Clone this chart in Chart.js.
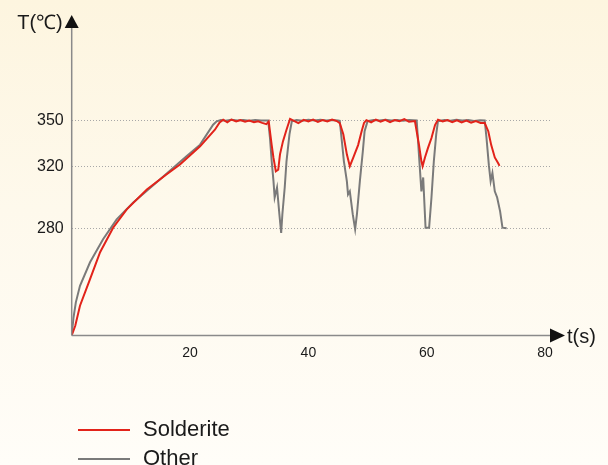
<!DOCTYPE html>
<html>
<head>
<meta charset="utf-8">
<script src="https://cdn.jsdelivr.net/npm/chart.js@4/dist/chart.umd.min.js"></script>
<style>
  html, body { margin: 0; padding: 0; }
  body {
    width: 608px; height: 465px; overflow: hidden;
    background: linear-gradient(to bottom, #fdf5df 0%, #fef9ec 45%, #fffdf8 100%);
  }
  #wrap { position: relative; width: 608px; height: 465px; }
</style>
</head>
<body>
<div id="wrap"><canvas id="chart"></canvas></div>
<script>
// valores (t em s, T em °C)
const redTime = [0, 0.6, 1.4, 3.1, 4.8, 7.0, 9.3, 12.7, 16.0, 18.3, 21.7, 24.2, 25.0, 25.6, 26.3, 27.0, 27.8, 28.5, 29.3, 30.0,
  30.8, 31.5, 32.2, 32.9, 33.3, 33.5, 33.8, 34.1, 34.5, 34.9, 35.2, 35.7, 36.3, 36.9, 37.4, 38.3, 39.2, 40.0, 40.8, 41.6,
  42.4, 43.2, 44.0, 44.8, 45.3, 45.9, 46.5, 47.0, 47.6, 48.4, 49.0, 49.4, 49.8, 50.6, 51.4, 52.2, 53.0, 53.8, 54.6, 55.4,
  56.2, 57.0, 58.0, 58.3, 58.7, 59.1, 59.3, 59.7, 60.2, 60.8, 61.4, 61.9, 62.7, 63.5, 64.3, 65.1, 65.9, 66.7, 67.5, 68.3,
  69.1, 69.8, 70.4, 70.9, 71.5, 72.1, 72.3];
const redTemp = [210.5, 216.8, 229.8, 247, 264.5, 280.4, 292.3, 305.2, 314.9, 321.4, 333.2, 344, 348.7, 350.5, 348.8, 350.6, 349.4, 350.3, 349.2, 349.9,
  348.8, 349.5, 348.4, 347.6, 349.3, 343, 334, 325.7, 317, 318, 328, 336.4, 344, 351, 350, 348.2, 350.4, 349.3, 350.5, 349,
  350.2, 349.4, 350.6, 349.6, 348.3, 341, 328, 320.3, 326, 334, 343, 348.4, 350.2, 348.8, 350.5, 349.2, 350.4, 348.9, 350.3, 349.5,
  350.8, 349.2, 349.6, 343, 334, 323.5, 320.3, 326, 332, 338.6, 347, 350.5, 349.4, 350.2, 348.9, 350.1, 348.7, 349.9, 348.5, 349.6,
  348.4, 348.3, 343, 334, 326, 322, 320.5];

const otherTime = [0, 0.3, 0.7, 1.4, 3.1, 5.3, 7.6, 10.4, 14.9, 19.4, 21.7, 23.9, 24.5, 25.2, 26.0, 27.0, 28.0, 29.0, 30.0, 31.0,
  32.0, 33.2, 33.5, 33.8, 34.1, 34.3, 34.7, 35.1, 35.4, 35.6, 36.0, 36.3, 36.8, 37.2, 38.0, 39.0, 40.0, 41.0, 42.0, 43.0,
  44.0, 45.0, 45.3, 45.6, 46.0, 46.5, 46.7, 47.0, 47.5, 47.9, 48.2, 48.7, 49.2, 49.5, 50.0, 51.0, 52.0, 53.0, 54.0, 55.0,
  56.0, 57.0, 58.3, 58.5, 58.8, 59.1, 59.4, 59.8, 60.4, 60.8, 61.2, 61.6, 61.9, 63.0, 64.0, 65.0, 66.0, 67.0, 68.0, 69.0,
  69.8, 70.1, 70.5, 70.8, 71.1, 71.5, 71.9, 72.4, 72.8, 73.5];
const otherTemp = [210.5, 222, 232, 242.7, 258, 272.9, 285.8, 296.8, 311.7, 326.7, 334.3, 347.2, 349.4, 350.2, 349.8, 350.4, 350, 350.3, 349.8, 350.2,
  349.9, 350, 339, 323.5, 310.6, 300, 306.5, 289, 277, 289, 306.5, 323.5, 341, 349.5, 350.3, 349.8, 350.4, 350, 350.5, 349.9,
  350.3, 350, 349.8, 338.6, 323.5, 310.6, 302, 304, 289, 279.4, 289, 310.6, 330, 343, 349.5, 350.3, 349.9, 350.4, 350, 350.3,
  349.8, 350.2, 350, 338.6, 321, 304, 313, 280.4, 280.4, 300, 323.5, 341, 349.5, 350.2, 349.8, 350.4, 350, 350.3, 349.7, 350.1,
  350, 338.6, 321, 310.6, 316, 304, 300, 291, 280.4, 280];

const xTicks = [20, 40, 60, 80];
const yTicks = [280, 320, 350];
const seriesLabels = ['Solderite', 'Other'];
const seriesColors = ['#e2231a', '#7a7a7a'];

const toPoints = (xs, ys) => xs.map((x, i) => ({ x: x, y: ys[i] }));

// eixos com setas, títulos e legenda desenhados à mão
const extras = {
    id: 'extras',
    afterDraw(chart) {
        const { ctx, chartArea: a } = chart;
        ctx.save();
        ctx.strokeStyle = '#8a8a8a';
        ctx.lineWidth = 1.5;
        ctx.beginPath();
        ctx.moveTo(a.left, a.bottom);
        ctx.lineTo(a.left, a.top);
        ctx.moveTo(a.left, a.bottom);
        ctx.lineTo(a.right, a.bottom);
        ctx.stroke();

        ctx.fillStyle = '#111';
        ctx.beginPath();
        ctx.moveTo(a.left, a.top - 12);
        ctx.lineTo(a.left - 7, a.top + 1);
        ctx.lineTo(a.left + 7, a.top + 1);
        ctx.closePath();
        ctx.fill();
        ctx.beginPath();
        ctx.moveTo(a.right + 14, a.bottom);
        ctx.lineTo(a.right - 1, a.bottom - 7);
        ctx.lineTo(a.right - 1, a.bottom + 7);
        ctx.closePath();
        ctx.fill();

        ctx.fillStyle = '#1a1a1a';
        ctx.font = '20px "Liberation Sans", Arial, sans-serif';
        ctx.textBaseline = 'middle';
        ctx.textAlign = 'right';
        ctx.fillText('T(℃)', a.left - 9, a.top - 4);
        ctx.textAlign = 'left';
        ctx.fillText('t(s)', a.right + 16, a.bottom + 2);

        // legenda
        ctx.font = '22px "Liberation Sans", Arial, sans-serif';
        seriesLabels.forEach((label, i) => {
            const y = 430 + i * 29;
            ctx.strokeStyle = seriesColors[i];
            ctx.lineWidth = 2;
            ctx.beginPath();
            ctx.moveTo(78, y);
            ctx.lineTo(130, y);
            ctx.stroke();
            ctx.fillStyle = '#1a1a1a';
            ctx.fillText(label, 143, y);
        });
        ctx.restore();
    }
};

new Chart(document.getElementById('chart'), {
    type: 'line',
    data: {
        datasets: [
            { label: seriesLabels[0], data: toPoints(redTime, redTemp), borderColor: seriesColors[0], borderWidth: 2 },
            { label: seriesLabels[1], data: toPoints(otherTime, otherTemp), borderColor: seriesColors[1], borderWidth: 2 },
        ]
    },
    options: {
        responsive: true,
        maintainAspectRatio: false,
        animation: false,
        elements: { point: { radius: 0 }, line: { tension: 0 } },
        layout: { padding: { left: 26, right: 57, top: 27, bottom: 100 } },
        plugins: { legend: { display: false }, tooltip: { enabled: false } },
        scales: {
            x: {
                type: 'linear',
                min: 0,
                max: 81,
                afterBuildTicks: s => { s.ticks = xTicks.map(v => ({ value: v })); },
                afterFit: s => { s.height = 29.5; },
                grid: { display: false, drawTicks: false },
                border: { display: false },
                ticks: { padding: 9, color: '#1a1a1a', font: { family: '"Liberation Sans", Arial, sans-serif', size: 14 } }
            },
            y: {
                min: 210.5,
                max: 410.6,
                afterBuildTicks: s => { s.ticks = yTicks.map(v => ({ value: v })); },
                afterFit: s => { s.width = 45.7; },
                grid: { color: '#a8a8a8', lineWidth: 1, drawTicks: false },
                border: { display: false, dash: [1, 2] },
                ticks: { padding: 8, color: '#1a1a1a', font: { family: '"Liberation Sans", Arial, sans-serif', size: 16 } }
            }
        }
    },
    plugins: [extras]
});
</script>
</body>
</html>
